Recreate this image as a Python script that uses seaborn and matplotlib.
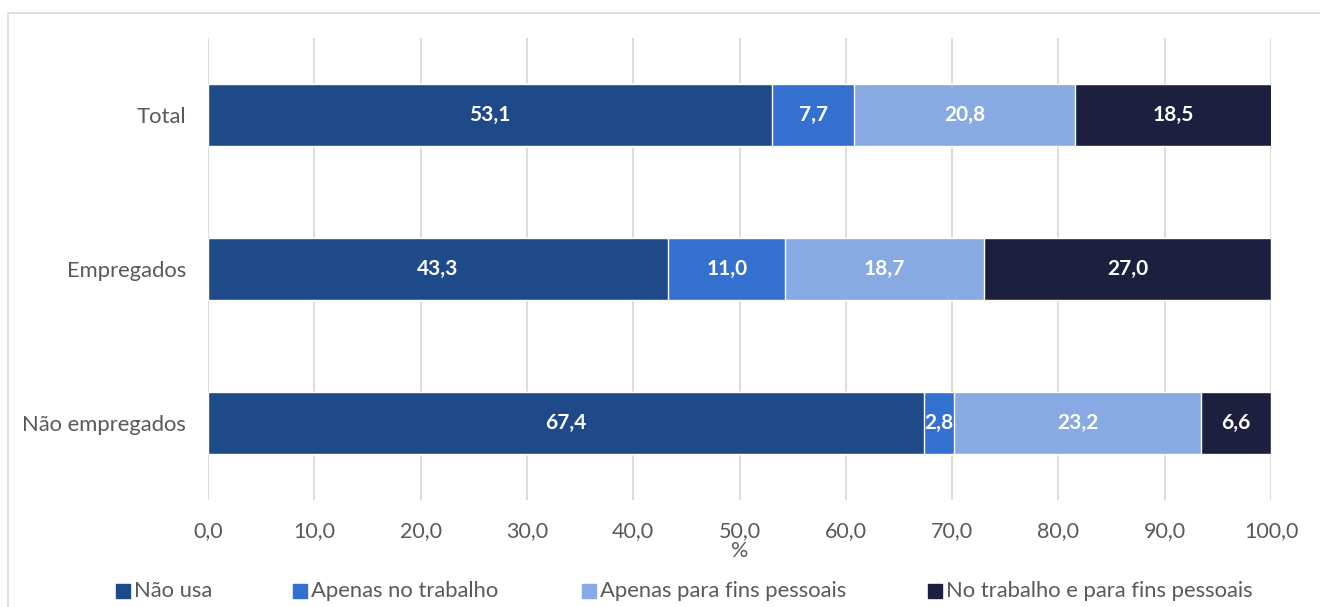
import matplotlib
matplotlib.use("Agg")
import matplotlib.pyplot as plt
import seaborn as sns
import numpy as np
import pandas as pd
from matplotlib.patches import Rectangle
from matplotlib.lines import Line2D

categories = ["Total", "Empregados", "Não empregados"]
series_names = ["Não usa", "Apenas no trabalho", "Apenas para fins pessoais",
                "No trabalho e para fins pessoais"]
nao_usa = [53.1, 43.3, 67.4]
apenas_trabalho = [7.7, 11.0, 2.8]
apenas_pessoais = [20.8, 18.7, 23.2]
trabalho_e_pessoais = [18.5, 27.0, 6.6]
colors = ["#1F4A8A", "#3370D0", "#87AAE2", "#1C1F3E"]
xticks = [0, 10, 20, 30, 40, 50, 60, 70, 80, 90, 100]

sns.set_theme(style="white")
plt.rcParams['font.family'] = ['Lato', 'DejaVu Sans']

values = np.array([nao_usa, apenas_trabalho, apenas_pessoais, trabalho_e_pessoais])
cum = np.cumsum(values, axis=0)

W, H = 1320, 607
fig = plt.figure(figsize=(W/100, H/100), dpi=100)
ax = fig.add_axes([208/W, 1-500/H, (1271-208)/W, (500-38)/H])

for i in range(len(series_names)-1, -1, -1):
    df = pd.DataFrame({"cat": categories, "val": cum[i]})
    sns.barplot(data=df, x="val", y="cat", orient="h", color=colors[i],
                width=0.4, saturation=1, ax=ax, zorder=3, errorbar=None)

for i in range(len(series_names)):
    for j in range(len(categories)):
        center = cum[i][j] - values[i][j] / 2
        ax.text(center, j, f"{values[i][j]:.1f}".replace(".", ","), ha="center",
                va="center", color="white", fontsize=15, fontweight="bold", zorder=5)

ax.set_xlim(0, 100)
ax.set_ylim(2.5, -0.5)
ax.set_xticks(xticks)
ax.set_xticklabels([f"{t:.1f}".replace(".", ",") for t in xticks], fontsize=15.5, color="#595959")
ax.tick_params(axis="y", labelsize=15.8, colors="#595959", length=0, pad=16)
ax.tick_params(axis="x", length=0, pad=15)
ax.set_ylabel("")
ax.set_xlabel("%", fontsize=15.5, color="#595959", labelpad=0)
ax.grid(axis="x", color="#D9D9D9", linewidth=1.3, zorder=0)
ax.grid(axis="y", visible=False)
for s in ax.spines.values():
    s.set_visible(False)

# outer border
fig.patches.append(Rectangle((8/W, -0.01), 1.02, 1-13/H+0.01, transform=fig.transFigure,
                             fill=False, edgecolor="#D9D9D9", linewidth=1.2))

# legend (manual placement)
leg_left = [116, 293, 582, 928]
leg_y = 1 - 591/H
for name, c, xl in zip(series_names, colors, leg_left):
    fig.add_artist(Line2D([(xl+7)/W], [leg_y], marker="s", linestyle="none",
                          markersize=9.5, markerfacecolor=c, markeredgecolor=c,
                          transform=fig.transFigure))
    fig.text((xl+18)/W, leg_y, name, ha="left", va="center", fontsize=15.8,
             color="#595959")

fig.savefig("out.png", dpi=100)
